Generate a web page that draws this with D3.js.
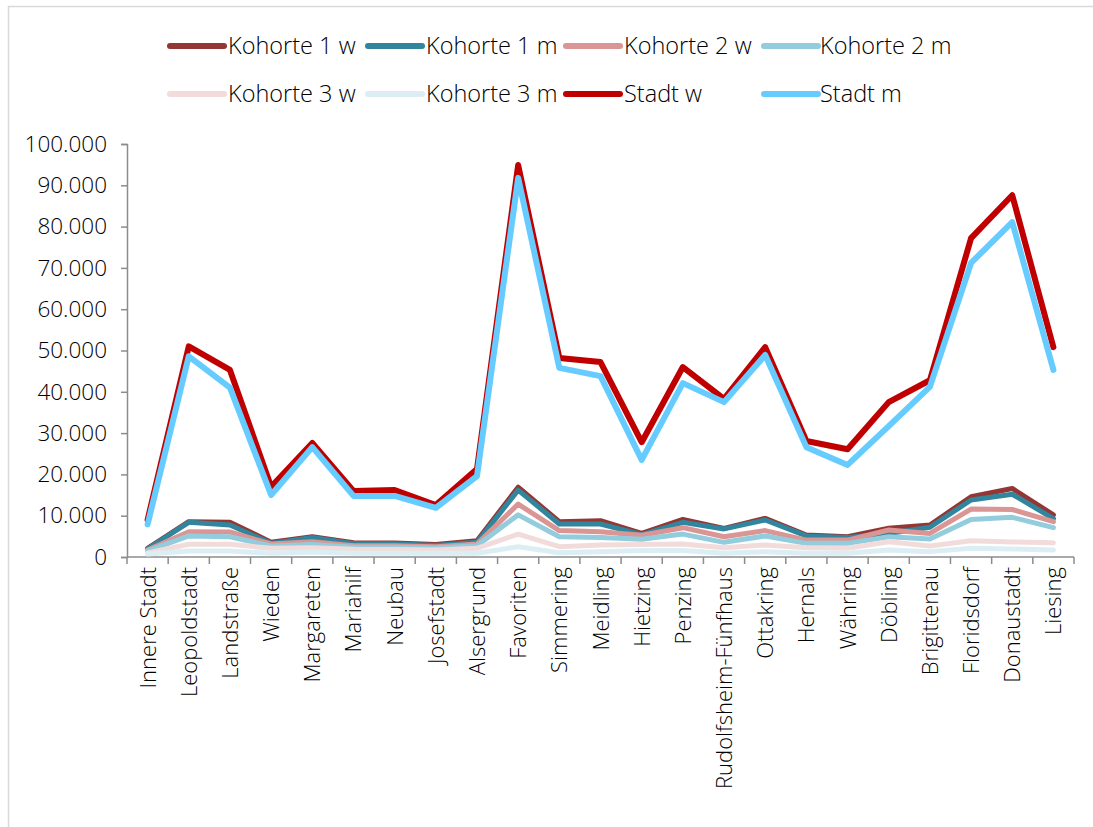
<!DOCTYPE html>
<html><head><meta charset="utf-8">
<script src="https://cdn.jsdelivr.net/npm/d3@7"></script>
<style>
html,body{margin:0;padding:0;background:#fff;}
svg text{font-family:"Open Sans",sans-serif;font-weight:300;fill:#000;}
</style></head>
<body><svg id="c" width="1093" height="827"></svg>
<script>
const categories = ["Innere Stadt","Leopoldstadt","Landstraße","Wieden","Margareten","Mariahilf","Neubau","Josefstadt","Alsergrund","Favoriten","Simmering","Meidling","Hietzing","Penzing","Rudolfsheim-Fünfhaus","Ottakring","Hernals","Währing","Döbling","Brigittenau","Floridsdorf","Donaustadt","Liesing"];
const seriesNames = ["Kohorte 1 w","Kohorte 1 m","Kohorte 2 w","Kohorte 2 m","Kohorte 3 w","Kohorte 3 m","Stadt w","Stadt m"];
const kohorte1w = [2100,8550,8400,3600,4900,3450,3400,3000,3950,16900,8550,8800,5700,9100,6900,9350,5300,4900,6950,7750,14600,16600,10200];
const kohorte1m = [2000,8400,7750,3300,4750,3200,3200,2800,3550,16200,8000,8000,5400,8400,6800,8950,5100,4700,5700,7200,13800,15200,9300];
const kohorte2w = [1700,6100,6050,3150,3700,2750,2750,2500,3150,12800,6400,6100,5250,7100,4900,6400,4100,4100,6550,5700,11600,11500,8550];
const kohorte2m = [1500,5100,4900,2650,3050,2350,2350,2200,2750,10200,4900,4750,4300,5550,3550,5100,3300,3300,4900,4350,9100,9600,7100];
const kohorte3w = [1000,3070,3070,2100,2250,1850,1800,1700,2100,5550,2500,2900,3050,3150,2250,2900,2250,2100,3700,2650,3950,3650,3450];
const kohorte3m = [700,1450,1450,900,1200,900,900,900,900,2500,1050,1300,1550,1550,900,1300,900,900,1700,1300,2100,1950,1700];
const stadtW = [9000,51000,45300,17000,27600,16000,16200,12600,21300,94900,48200,47200,27800,46000,38300,50800,28100,26100,37500,42800,77200,87600,50800];
const stadtM = [7900,48600,41000,15000,26600,14800,14800,11900,19600,91800,45800,43800,23500,42100,37500,48900,26600,22300,31700,41200,71200,81100,45300];
const yTicks = [0,10000,20000,30000,40000,50000,60000,70000,80000,90000,100000];
const colors = ["#943634","#31859c","#d99694","#93cddd","#f2dcdb","#dbeef4","#c00000","#66ccff"];
const widths = [5,5,5,5,5,5,6,6];
const allSeries = [kohorte1w,kohorte1m,kohorte2w,kohorte2m,kohorte3w,kohorte3m,stadtW,stadtM];

const svg = d3.select("#c");
svg.append("rect").attr("x",8.5).attr("y",6.5).attr("width",1100).attr("height",840)
  .attr("fill","none").attr("stroke","#d9d9d9").attr("stroke-width",1.5);

const pL=127, pR=1074, pT=144, pB=557;
const x = d3.scaleBand().domain(categories).range([pL,pR]).padding(0);
const y = d3.scaleLinear().domain([0,100000]).range([pB,pT]);
const fmt = d => d3.format(",")(d).replace(/,/g,".");

const ya = svg.append("g").attr("transform",`translate(${pL},0)`)
  .call(d3.axisLeft(y).tickValues(yTicks).tickFormat(fmt).tickSize(6).tickPadding(14));
ya.select(".domain").attr("stroke","#8c8c8c").attr("stroke-width",1.5);
ya.selectAll(".tick line").attr("stroke","#8c8c8c").attr("stroke-width",1.5);
ya.selectAll(".tick text").style("font-size","22.5px").style("font-family","'Open Sans',sans-serif").style("font-weight",300).attr("fill","#000");

const xg = svg.append("g").attr("transform",`translate(0,${pB})`);
xg.append("line").attr("x1",pL).attr("x2",pR).attr("stroke","#8c8c8c").attr("stroke-width",1.5);
const bounds = categories.map(c=>x(c)).concat([pR]);
xg.selectAll("line.t").data(bounds).join("line").attr("class","t")
  .attr("x1",d=>d).attr("x2",d=>d).attr("y1",0).attr("y2",7)
  .attr("stroke","#8c8c8c").attr("stroke-width",1.5);
xg.selectAll("text").data(categories).join("text")
  .attr("transform",d=>`translate(${x(d)+x.bandwidth()/2+8},10) rotate(-90)`)
  .attr("text-anchor","end").style("font-size","22px").text(d=>d);

const line = d3.line().x((d,i)=>x(categories[i])+x.bandwidth()/2).y(d=>y(d)).curve(d3.curveLinear);
allSeries.forEach((s,k)=>{
  svg.append("path").datum(s).attr("d",line).attr("fill","none")
    .attr("stroke",colors[k]).attr("stroke-width",widths[k])
    .attr("stroke-linejoin","round").attr("stroke-linecap","round");
});

const legX = [170,368,566,764], legTX = [228,426,624,820], legY=[46,94];
seriesNames.forEach((n,k)=>{
  const r = Math.floor(k/4), c = k%4;
  const g = svg.append("g");
  g.append("line").attr("x1",legX[c]).attr("x2",legX[c]+54).attr("y1",legY[r]).attr("y2",legY[r])
    .attr("stroke",colors[k]).attr("stroke-width",6).attr("stroke-linecap","round");
  g.append("text").attr("x",legTX[c]).attr("y",legY[r]).attr("dy","0.35em")
    .style("font-size","23.5px").text(n);
});
</script></body></html>
